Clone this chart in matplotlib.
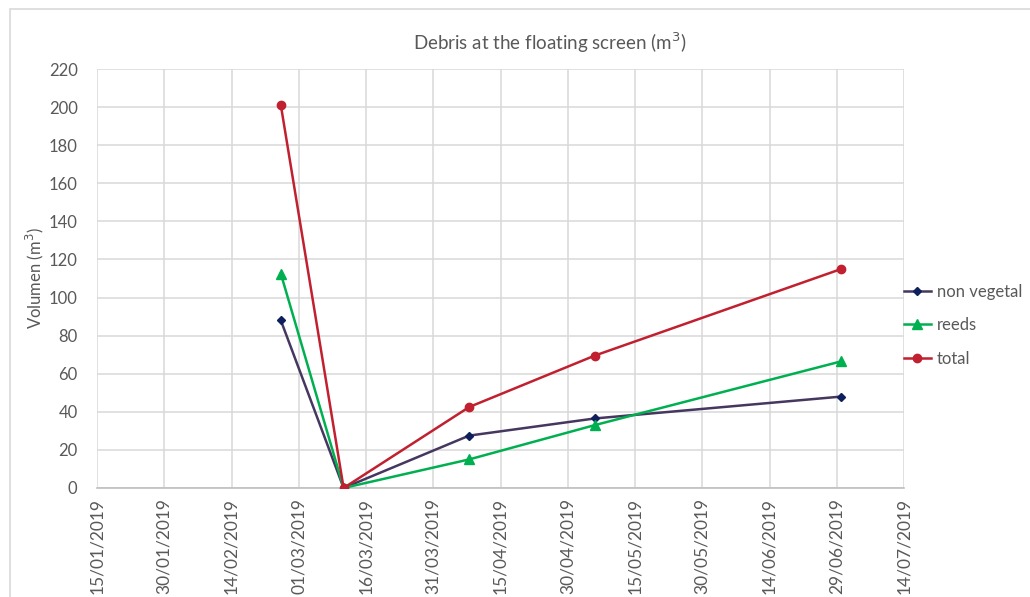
import datetime as dt

import matplotlib
matplotlib.use('Agg')
import matplotlib.pyplot as plt
from matplotlib.patches import Rectangle

# values
dates = ['25/02/2019', '11/03/2019', '08/04/2019', '06/05/2019', '30/06/2019']
non_vegetal = [88, 0, 27.5, 36.5, 48]
reeds = [112.5, 0, 15, 33, 66.5]
total = [201, 0, 42.5, 69.5, 115]

tick_dates = ['15/01/2019', '30/01/2019', '14/02/2019', '01/03/2019', '16/03/2019',
              '31/03/2019', '15/04/2019', '30/04/2019', '15/05/2019', '30/05/2019',
              '14/06/2019', '29/06/2019', '14/07/2019']
y_ticks = list(range(0, 221, 20))


def parse(d):
    return dt.datetime.strptime(d, '%d/%m/%Y')


plt.rcParams['font.family'] = ['Lato', 'DejaVu Sans']
text_color = '#595959'
grid_color = '#d9d9d9'

fig = plt.figure(figsize=(10.30, 5.97), dpi=100)
fig.patches.append(Rectangle((0.0095, -0.05), 1.2, 1.035, transform=fig.transFigure,
                             fill=False, edgecolor='#d9d9d9', linewidth=1.2))

ax = fig.add_axes([0.0942, 0.1826, 0.7835, 0.7018])

x = [parse(d) for d in dates]
ax.plot(x, non_vegetal, color='#45375f', linewidth=1.8, marker='D', markersize=4.5,
        markerfacecolor='#0f1f5e', markeredgecolor='#0f1f5e', label='non vegetal', zorder=3)
ax.plot(x, reeds, color='#00b050', linewidth=1.8, marker='^', markersize=7,
        markerfacecolor='#00b050', markeredgecolor='#00b050', label='reeds', zorder=3)
ax.plot(x, total, color='#c0202f', linewidth=1.8, marker='o', markersize=6,
        markerfacecolor='#c0202f', markeredgecolor='#c0202f', label='total', zorder=4)

xt = [parse(d) for d in tick_dates]
ax.set_xlim(xt[0], xt[-1])
ax.set_xticks(xt)
ax.set_xticklabels(tick_dates, rotation=90, fontsize=12.5, color=text_color)
ax.set_ylim(0, 220)
ax.set_yticks(y_ticks)
ax.set_yticklabels([str(v) for v in y_ticks], fontsize=12, color=text_color)
ax.tick_params(axis='both', length=0, pad=7)
ax.tick_params(axis='y', pad=14)

ax.grid(True, color=grid_color, linewidth=1.1)
ax.set_axisbelow(True)
for side in ['top', 'left', 'right']:
    ax.spines[side].set_visible(False)
ax.spines['bottom'].set_color('#bfbfbf')
ax.spines['bottom'].set_linewidth(1.2)

ax.set_ylabel('Volumen (m$^3$)', fontsize=12, color=text_color, labelpad=2)
fig.text(0.5335, 0.928, 'Debris at the floating screen (m$^3$)', ha='center', va='center',
         fontsize=13.5, color=text_color)

leg = ax.legend(loc='center left', bbox_to_anchor=(1.0, 0.389), frameon=False,
                fontsize=12, handlelength=1.6, handletextpad=0.35, labelspacing=1.05,
                borderpad=0, borderaxespad=0)
for t in leg.get_texts():
    t.set_color(text_color)

fig.savefig('out.png', dpi=100)
